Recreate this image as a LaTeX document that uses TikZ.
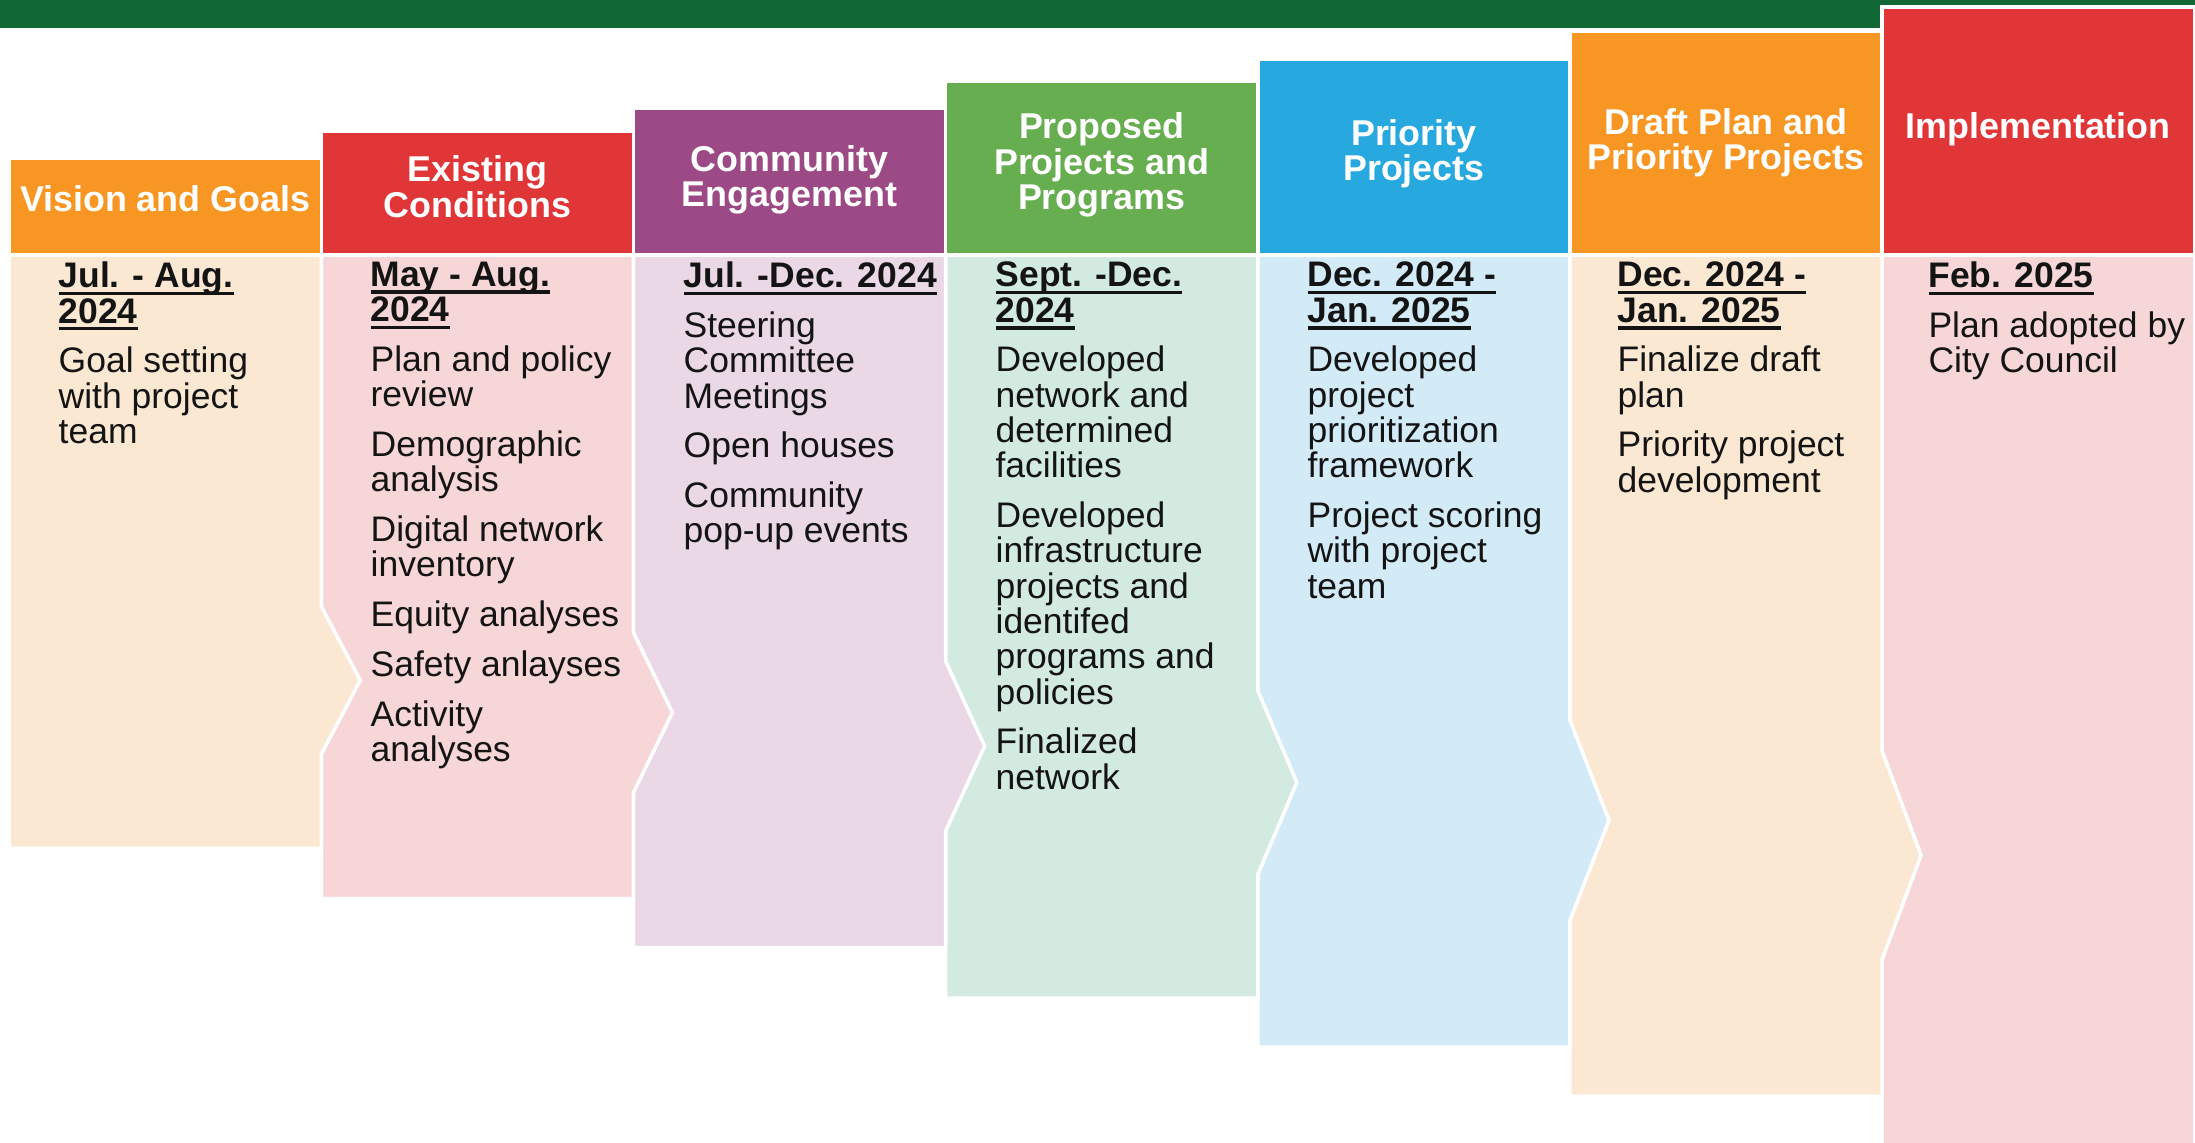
\documentclass[tikz,border=0pt]{standalone}
\usepackage{fontspec}
\setmainfont{Liberation Sans}
\usepackage{xcolor}
\usepackage{tikz}

\definecolor{topgreen}{HTML}{126835}
\definecolor{phaseorange}{HTML}{F79623}
\definecolor{phasered}{HTML}{E13638}
\definecolor{phasepurple}{HTML}{9B4A85}
\definecolor{phasegreen}{HTML}{67AE50}
\definecolor{phaseblue}{HTML}{27A9E0}
\definecolor{bodyorange}{HTML}{FBE8D3}
\definecolor{bodyred}{HTML}{F6D6D6}
\definecolor{bodypurple}{HTML}{EAD8E7}
\definecolor{bodygreen}{HTML}{D2EAE0}
\definecolor{bodyblue}{HTML}{D3EBF7}

\newcommand{\phasedate}[1]{\setbox0\hbox{\bfseries #1}\rlap{\rule[-2.1pt]{\wd0}{1pt}}\box0}

\begin{document}
\begin{tikzpicture}[
  phasehead/.style={rectangle, draw=white, line width=1pt, minimum width=3.122cm, inner sep=0pt},
  phasetitle/.style={inner sep=0pt, align=center, text=white, font=\bfseries\fontsize{10.2pt}{10.1pt}\selectfont},
  phasebody/.style={draw=white, line width=1pt},
  tasks/.style={anchor=north west, align=left, inner sep=0pt, text=black!92, font=\fontsize{10.1pt}{10.05pt}\selectfont}
]
\useasboundingbox (0,0) rectangle (21.952,11.424);
\fill[topgreen] (0,11.144) rectangle (21.952,11.424);
\filldraw[phasebody, fill=bodyred] (18.823,8.876) -- (21.945,8.876) -- (21.945,-0.2) -- (18.823,-0.2) -- cycle;
\filldraw[phasebody, fill=bodyorange] (15.701,8.876) -- (18.823,8.876) -- (18.823,3.91) -- (19.213,2.87) -- (18.823,1.83) -- (18.823,0.462) -- (15.701,0.462) -- cycle;
\filldraw[phasebody, fill=bodyblue] (12.579,8.876) -- (15.701,8.876) -- (15.701,4.22) -- (16.091,3.22) -- (15.701,2.22) -- (15.701,0.952) -- (12.579,0.952) -- cycle;
\filldraw[phasebody, fill=bodygreen] (9.457,8.876) -- (12.579,8.876) -- (12.579,4.518) -- (12.969,3.598) -- (12.579,2.678) -- (12.579,1.442) -- (9.457,1.442) -- cycle;
\filldraw[phasebody, fill=bodypurple] (6.335,8.876) -- (9.457,8.876) -- (9.457,4.812) -- (9.847,3.962) -- (9.457,3.112) -- (9.457,1.946) -- (6.335,1.946) -- cycle;
\filldraw[phasebody, fill=bodyred] (3.213,8.876) -- (6.335,8.876) -- (6.335,5.098) -- (6.725,4.298) -- (6.335,3.498) -- (6.335,2.436) -- (3.213,2.436) -- cycle;
\filldraw[phasebody, fill=bodyorange] (0.091,8.876) -- (3.213,8.876) -- (3.213,5.36) -- (3.603,4.62) -- (3.213,3.88) -- (3.213,2.94) -- (0.091,2.94) -- cycle;
\node[phasehead, fill=phaseorange, minimum height=0.966cm] (head1) at (1.652,9.359) {};
\node[phasehead, fill=phasered, minimum height=1.232cm] (head2) at (4.774,9.492) {};
\node[phasehead, fill=phasepurple, minimum height=1.47cm] (head3) at (7.896,9.611) {};
\node[phasehead, fill=phasegreen, minimum height=1.736cm] (head4) at (11.018,9.744) {};
\node[phasehead, fill=phaseblue, minimum height=1.96cm] (head5) at (14.14,9.856) {};
\node[phasehead, fill=phaseorange, minimum height=2.24cm] (head6) at (17.262,9.996) {};
\node[phasehead, fill=phasered, minimum height=2.478cm] (head7) at (20.384,10.115) {};
\node[phasetitle, yshift=2.2pt] (title1) at (head1) {Vision and Goals};
\node[phasetitle, yshift=1.9pt] (title2) at (head2) {Existing\\Conditions};
\node[phasetitle, yshift=0.4pt] (title3) at (head3) {Community\\Engagement};
\node[phasetitle, yshift=0.8pt] (title4) at (head4) {Proposed\\Projects and\\Programs};
\node[phasetitle, yshift=0.9pt] (title5) at (head5) {Priority\\Projects};
\node[phasetitle] (title6) at (head6) {Draft Plan and\\Priority Projects};
\node[phasetitle, yshift=0.6pt] (title7) at (head7) {Implementation};
\node[tasks] (tasks1) at (0.58,8.81) {\phasedate{Jul. - Aug.}\\\phasedate{2024}\\[4.1pt]Goal setting\\with project\\team};
\node[tasks] (tasks2) at (3.70,8.81) {\phasedate{May - Aug.}\\\phasedate{2024}\\[4.1pt]Plan and policy\\review\\[4.1pt]Demographic\\analysis\\[4.1pt]Digital network\\inventory\\[4.1pt]Equity analyses\\[4.1pt]Safety anlayses\\[4.1pt]Activity\\analyses};
\node[tasks] (tasks3) at (6.83,8.81) {\phasedate{Jul. -Dec. 2024}\\[4.1pt]Steering\\Committee\\Meetings\\[4.1pt]Open houses\\[4.1pt]Community\\pop-up events};
\node[tasks] (tasks4) at (9.95,8.81) {\phasedate{Sept. -Dec.}\\\phasedate{2024}\\[4.1pt]Developed\\network and\\determined\\facilities\\[4.1pt]Developed\\infrastructure\\projects and\\identifed\\programs and\\policies\\[4.1pt]Finalized\\network};
\node[tasks] (tasks5) at (13.07,8.81) {\phasedate{Dec. 2024 -}\\\phasedate{Jan. 2025}\\[4.1pt]Developed\\project\\prioritization\\framework\\[4.1pt]Project scoring\\with project\\team};
\node[tasks] (tasks6) at (16.17,8.81) {\phasedate{Dec. 2024 -}\\\phasedate{Jan. 2025}\\[4.1pt]Finalize draft\\plan\\[4.1pt]Priority project\\development};
\node[tasks] (tasks7) at (19.28,8.81) {\phasedate{Feb. 2025}\\[4.1pt]Plan adopted by\\City Council};
\end{tikzpicture}
\end{document}
